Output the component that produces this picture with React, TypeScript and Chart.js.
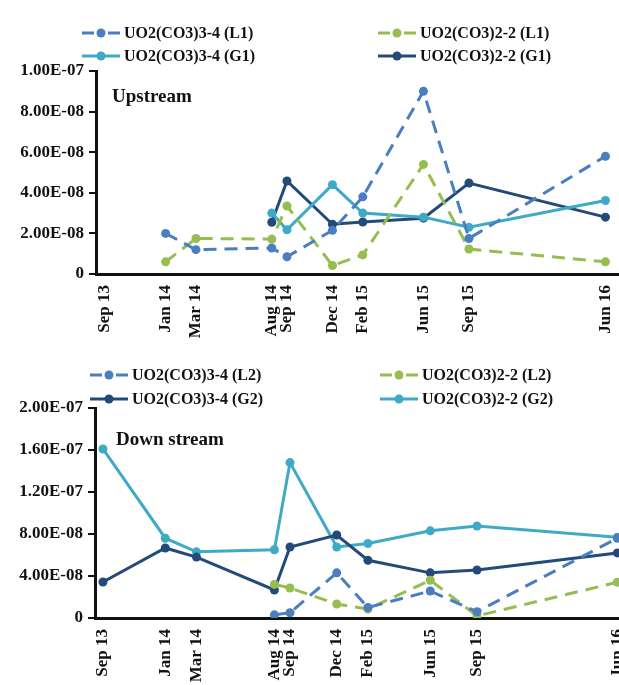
import React, { useEffect, useRef } from "react";
import { Chart, registerables } from "chart.js";

Chart.register(...registerables);

// ---------- data ----------
const dateLabels = ["Sep 13", "Jan 14", "Mar 14", "Aug 14", "Sep 14", "Dec 14", "Feb 15", "Jun 15", "Sep 15", "Jun 16"];
// months elapsed since Sep 2013 (time-proportional axis)
const dateMonths = [0, 4, 6, 11, 12, 15, 17, 21, 24, 33];

// Upstream panel
const upL1_UO2CO3_3 = [null, 2.0e-8, 1.2e-8, 1.28e-8, 0.85e-8, 2.15e-8, 3.8e-8, 9.0e-8, 1.75e-8, 5.8e-8];
const upL1_UO2CO3_2 = [null, 0.6e-8, 1.75e-8, 1.72e-8, 3.35e-8, 0.42e-8, 0.94e-8, 5.4e-8, 1.23e-8, 0.6e-8];
const upG1_UO2CO3_3 = [null, null, null, 3.0e-8, 2.18e-8, 4.4e-8, 3.0e-8, 2.8e-8, 2.3e-8, 3.62e-8];
const upG1_UO2CO3_2 = [null, null, null, 2.55e-8, 4.58e-8, 2.45e-8, 2.56e-8, 2.75e-8, 4.48e-8, 2.8e-8];

// Downstream panel
const dnL2_UO2CO3_3 = [null, null, null, 0.3e-8, 0.5e-8, 4.3e-8, 1.0e-8, 2.57e-8, 0.6e-8, 7.6e-8];
const dnL2_UO2CO3_2 = [null, null, null, 3.2e-8, 2.86e-8, 1.33e-8, 0.86e-8, 3.6e-8, 0.2e-8, 3.4e-8];
const dnG2_UO2CO3_3 = [3.43e-8, 6.67e-8, 5.8e-8, 2.67e-8, 6.76e-8, 7.9e-8, 5.5e-8, 4.3e-8, 4.57e-8, 6.2e-8];
const dnG2_UO2CO3_2 = [1.61e-7, 7.6e-8, 6.3e-8, 6.5e-8, 1.48e-7, 6.76e-8, 7.1e-8, 8.3e-8, 8.76e-8, 7.7e-8];

const upYTicks = [0, 2e-8, 4e-8, 6e-8, 8e-8, 1e-7];
const dnYTicks = [0, 4e-8, 8e-8, 1.2e-7, 1.6e-7, 2e-7];

// ---------- styling ----------
const FONT = "'Liberation Serif', 'Times New Roman', serif";
const C_BLUE = "#4a7ebf";
const C_GREEN = "#96bd4f";
const C_TEAL = "#3eaac6";
const C_NAVY = "#244a7a";
const DASH = [13, 8];

function fmtSci(v: number): string {
  if (Math.abs(v) < 1e-20) return "0";
  const s = v.toExponential(2);
  const [m, e] = s.split("e");
  const sign = e[0] === "-" ? "-" : "+";
  const digits = e.replace(/^[-+]/, "").padStart(2, "0");
  return `${m}E${sign}${digits}`;
}

function toPoints(values: (number | null)[]) {
  const pts: { x: number; y: number }[] = [];
  values.forEach((v, i) => {
    if (v !== null && v !== undefined) pts.push({ x: dateMonths[i], y: v });
  });
  return pts;
}

function makeDataset(label: string, values: (number | null)[], color: string, dashed: boolean) {
  return {
    label,
    data: toPoints(values),
    borderColor: color,
    backgroundColor: color,
    pointBackgroundColor: color,
    pointBorderColor: color,
    borderWidth: 3,
    borderDash: dashed ? DASH : [],
    pointRadius: 4.5,
    pointBorderWidth: 0,
    tension: 0,
    fill: false,
    dashedLegend: dashed,
  };
}

const gridLegend = {
  id: "gridLegend",
  afterDraw(chart: any, _args: any, opts: any) {
    const ctx = chart.ctx as CanvasRenderingContext2D;
    ctx.save();
    chart.data.datasets.forEach((ds: any, i: number) => {
      const x = opts.cols[i % 2];
      const y = opts.rows[Math.floor(i / 2)];
      ctx.strokeStyle = ds.borderColor;
      ctx.fillStyle = ds.borderColor;
      ctx.lineWidth = 3;
      ctx.setLineDash([]);
      ctx.beginPath();
      if (ds.dashedLegend) {
        ctx.moveTo(x, y);
        ctx.lineTo(x + 12, y);
        ctx.moveTo(x + 26, y);
        ctx.lineTo(x + 38, y);
      } else {
        ctx.moveTo(x, y);
        ctx.lineTo(x + 38, y);
      }
      ctx.stroke();
      ctx.beginPath();
      ctx.arc(x + 19, y, 4.5, 0, Math.PI * 2);
      ctx.fill();
      ctx.fillStyle = "#111";
      ctx.font = `bold 16px ${FONT}`;
      ctx.textAlign = "left";
      ctx.textBaseline = "middle";
      ctx.fillText(ds.label, x + 42, y + 1);
    });
    ctx.fillStyle = "#111";
    ctx.font = `bold 19px ${FONT}`;
    ctx.textAlign = "left";
    ctx.textBaseline = "middle";
    ctx.fillText(opts.note, opts.noteX, opts.noteY);
    ctx.restore();
  },
};

interface PanelProps {
  datasets: any[];
  yTicks: number[];
  xMin: number;
  xMax: number;
  axisLeft: number;
  padTop: number;
  xAxisHeight: number;
  width: number;
  height: number;
  legendCols: number[];
  legendRows: number[];
  note: string;
  noteX: number;
  noteY: number;
}

function Panel(p: PanelProps) {
  const ref = useRef<HTMLCanvasElement | null>(null);
  useEffect(() => {
    if (!ref.current) return;
    const chart = new Chart(ref.current, {
      type: "line",
      data: { datasets: p.datasets },
      plugins: [gridLegend as any],
      options: {
        animation: false,
        responsive: false,
        devicePixelRatio: 1,
        layout: { padding: { top: p.padTop, left: 0, right: 0, bottom: 0 } },
        plugins: {
          legend: { display: false },
          tooltip: { enabled: false },
          gridLegend: {
            cols: p.legendCols,
            rows: p.legendRows,
            note: p.note,
            noteX: p.noteX,
            noteY: p.noteY,
          },
        } as any,
        scales: {
          x: {
            type: "linear",
            min: p.xMin,
            max: p.xMax,
            afterBuildTicks: (scale: any) => {
              scale.ticks = dateMonths.map((v) => ({ value: v }));
            },
            afterFit: (scale: any) => {
              scale.height = p.xAxisHeight;
            },
            grid: { display: false, drawTicks: false },
            border: { display: true, color: "#111", width: 3 },
            ticks: {
              autoSkip: false,
              minRotation: 90,
              maxRotation: 90,
              padding: 11,
              color: "#111",
              font: { family: FONT, size: 17, weight: "bold" },
              callback: (value: any) => {
                const idx = dateMonths.indexOf(Number(value));
                return idx >= 0 ? dateLabels[idx] : "";
              },
            },
          },
          y: {
            type: "linear",
            min: p.yTicks[0],
            max: p.yTicks[p.yTicks.length - 1],
            afterBuildTicks: (scale: any) => {
              scale.ticks = p.yTicks.map((v) => ({ value: v }));
            },
            afterFit: (scale: any) => {
              scale.width = p.axisLeft;
            },
            grid: {
              display: true,
              drawOnChartArea: false,
              drawTicks: true,
              tickLength: 7,
              color: "#111",
              lineWidth: 2,
            },
            border: { display: true, color: "#111", width: 3 },
            ticks: {
              padding: 5,
              color: "#111",
              font: { family: FONT, size: 17, weight: "bold" },
              callback: (value: any) => fmtSci(Number(value)),
            },
          },
        },
      } as any,
    });
    return () => chart.destroy();
  }, []);
  return <canvas ref={ref} width={p.width} height={p.height} style={{ display: "block" }} />;
}

export default function App() {
  const upDatasets = [
    makeDataset("UO2(CO3)3-4 (L1)", upL1_UO2CO3_3, C_BLUE, true),
    makeDataset("UO2(CO3)2-2 (L1)", upL1_UO2CO3_2, C_GREEN, true),
    makeDataset("UO2(CO3)3-4 (G1)", upG1_UO2CO3_3, C_TEAL, false),
    makeDataset("UO2(CO3)2-2 (G1)", upG1_UO2CO3_2, C_NAVY, false),
  ];
  const dnDatasets = [
    makeDataset("UO2(CO3)3-4 (L2)", dnL2_UO2CO3_3, C_BLUE, true),
    makeDataset("UO2(CO3)2-2 (L2)", dnL2_UO2CO3_2, C_GREEN, true),
    makeDataset("UO2(CO3)3-4 (G2)", dnG2_UO2CO3_3, C_NAVY, false),
    makeDataset("UO2(CO3)2-2 (G2)", dnG2_UO2CO3_2, C_TEAL, false),
  ];
  return (
    <div
      style={{
        position: "absolute",
        left: 0,
        top: 0,
        width: 619,
        height: 685,
        overflow: "hidden",
        background: "#fff",
      }}
    >
      <div style={{ position: "absolute", left: 0, top: 0 }}>
        <Panel
          datasets={upDatasets}
          yTicks={upYTicks}
          xMin={-0.59}
          xMax={36.3}
          axisLeft={96}
          padTop={71}
          xAxisHeight={71}
          width={660}
          height={345}
          legendCols={[82, 378]}
          legendRows={[33, 56]}
          note="Upstream"
          noteX={112}
          noteY={97}
        />
      </div>
      <div style={{ position: "absolute", left: 0, top: 345 }}>
        <Panel
          datasets={dnDatasets}
          yTicks={dnYTicks}
          xMin={-0.51}
          xMax={35.45}
          axisLeft={95}
          padTop={63}
          xAxisHeight={67}
          width={660}
          height={340}
          legendCols={[90, 380]}
          legendRows={[30, 54]}
          note="Down stream"
          noteX={116}
          noteY={95}
        />
      </div>
    </div>
  );
}
